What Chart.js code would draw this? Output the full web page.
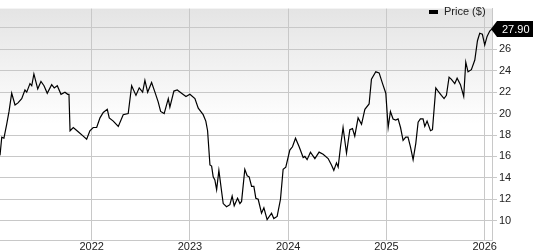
<!DOCTYPE html>
<html>
<head>
<meta charset="utf-8">
<script src="https://cdn.jsdelivr.net/npm/chart.js@4/dist/chart.umd.min.js"></script>
<style>
  html, body { margin: 0; padding: 0; background: #fff; }
  #wrap { width: 533px; height: 250px; position: relative; }
</style>
</head>
<body>
<div id="wrap"><canvas id="grafico"></canvas></div>
<script>
// datas em anos decimais
const datas = [
  2021.067, 2021.085, 2021.107, 2021.135, 2021.159, 2021.186, 2021.220, 2021.250, 2021.288, 2021.321,
  2021.339, 2021.372, 2021.390, 2021.412, 2021.451, 2021.484, 2021.515, 2021.548, 2021.593, 2021.619,
  2021.650, 2021.688, 2021.728, 2021.756, 2021.769, 2021.780, 2021.813, 2021.863, 2021.914, 2021.949,
  2021.982, 2022.016, 2022.051, 2022.085, 2022.118, 2022.159, 2022.179, 2022.220, 2022.271, 2022.321,
  2022.372, 2022.407, 2022.451, 2022.484, 2022.519, 2022.542, 2022.570, 2022.610, 2022.644, 2022.677,
  2022.702, 2022.738, 2022.780, 2022.796, 2022.837, 2022.871, 2022.915, 2022.960, 2023.000, 2023.051,
  2023.085, 2023.135, 2023.162, 2023.180, 2023.204, 2023.221, 2023.237, 2023.254, 2023.272, 2023.295,
  2023.323, 2023.339, 2023.373, 2023.407, 2023.430, 2023.451, 2023.485, 2023.509, 2023.526, 2023.559,
  2023.583, 2023.603, 2023.628, 2023.651, 2023.671, 2023.695, 2023.729, 2023.753, 2023.786, 2023.831,
  2023.854, 2023.888, 2023.922, 2023.949, 2023.976, 2024.017, 2024.044, 2024.075, 2024.112, 2024.153,
  2024.170, 2024.193, 2024.227, 2024.272, 2024.315, 2024.356, 2024.407, 2024.441, 2024.465, 2024.492,
  2024.509, 2024.533, 2024.559, 2024.594, 2024.628, 2024.655, 2024.678, 2024.712, 2024.747, 2024.781,
  2024.824, 2024.848, 2024.892, 2024.926, 2024.961, 2024.994, 2025.018, 2025.041, 2025.068, 2025.095,
  2025.119, 2025.144, 2025.170, 2025.197, 2025.220, 2025.245, 2025.272, 2025.299, 2025.323, 2025.346,
  2025.373, 2025.391, 2025.414, 2025.449, 2025.469, 2025.503, 2025.526, 2025.560, 2025.587, 2025.611,
  2025.638, 2025.662, 2025.696, 2025.720, 2025.754, 2025.787, 2025.808, 2025.831, 2025.865, 2025.900,
  2025.927, 2025.950, 2025.977, 2026.001, 2026.025, 2026.052, 2026.075
];

const precos = [
  16.1, 17.8, 17.7, 19.0, 20.2, 21.9, 20.8, 21.0, 21.4, 22.2,
  22.0, 22.8, 22.6, 23.7, 22.3, 23.0, 22.6, 21.9, 22.7, 22.4,
  22.6, 21.8, 22.0, 21.8, 21.8, 18.4, 18.7, 18.3, 17.9, 17.6,
  18.4, 18.7, 18.7, 19.6, 20.1, 20.4, 19.6, 19.3, 18.8, 19.9,
  20.0, 22.6, 21.7, 22.4, 22.0, 23.1, 22.0, 22.9, 22.0, 21.1,
  20.2, 20.0, 21.4, 20.6, 22.1, 22.2, 21.9, 21.6, 21.8, 21.4,
  20.5, 19.9, 19.3, 18.4, 15.2, 15.1, 14.1, 13.8, 12.9, 14.7,
  12.7, 11.6, 11.3, 11.5, 12.3, 11.4, 12.1, 11.6, 11.8, 14.8,
  14.2, 14.1, 13.2, 13.2, 12.1, 12.0, 10.7, 11.2, 10.1, 10.7,
  10.2, 10.4, 12.0, 14.8, 15.0, 16.6, 16.9, 17.7, 16.9, 15.9,
  16.0, 15.7, 16.4, 15.8, 16.4, 16.2, 15.8, 15.2, 14.7, 15.4,
  15.0, 16.9, 18.7, 16.3, 18.5, 18.6, 17.9, 19.6, 19.0, 20.4,
  20.9, 23.2, 23.9, 23.8, 22.8, 21.9, 18.7, 20.2, 19.5, 19.4,
  19.5, 18.7, 17.5, 17.8, 17.8, 16.9, 15.7, 17.2, 19.2, 19.5,
  19.5, 18.8, 19.3, 18.4, 18.5, 22.4, 22.1, 21.7, 21.4, 21.7,
  23.4, 23.2, 22.8, 23.3, 22.7, 21.6, 24.8, 23.9, 24.1, 25.0,
  26.8, 27.5, 27.4, 26.4, 27.2, 27.7, 27.9
];

const anosTicks = [2022, 2023, 2024, 2025, 2026];
const valoresTicks = [10, 12, 14, 16, 18, 20, 22, 24, 26, 28];
const ultimoPreco = '27.90';
const legenda = 'Price ($)';

const fonte = '"Liberation Sans", Arial, sans-serif';
const corGrade = '#c8c8c8';

// 🔹 fundo em degradê
const fundo = {
  id: 'fundo',
  beforeDraw(chart) {
    const { ctx, chartArea: a } = chart;
    const g = ctx.createLinearGradient(0, a.top, 0, a.bottom);
    g.addColorStop(0, '#e4e4e4');
    g.addColorStop(0.5, '#ffffff');
    g.addColorStop(1, '#ffffff');
    ctx.save();
    ctx.fillStyle = g;
    ctx.fillRect(a.left, a.top, a.right - a.left, a.bottom - a.top);
    ctx.restore();
  }
};

// 🔹 legenda e etiqueta do último preço
const extras = {
  id: 'extras',
  afterDraw(chart) {
    const { ctx, chartArea: a } = chart;
    const y = chart.scales.y.getPixelForValue(precos[precos.length - 1]);
    ctx.save();
    // legenda
    ctx.fillStyle = '#000';
    ctx.fillRect(429, 10, 9, 4);
    ctx.font = '11px ' + fonte;
    ctx.fillStyle = '#222';
    ctx.textBaseline = 'middle';
    ctx.textAlign = 'left';
    ctx.fillText(legenda, 444, 12);
    // etiqueta
    const x0 = a.right - 1;
    ctx.fillStyle = '#000';
    ctx.beginPath();
    ctx.moveTo(x0, y);
    ctx.lineTo(x0 + 6, y - 8);
    ctx.lineTo(533, y - 8);
    ctx.lineTo(533, y + 8);
    ctx.lineTo(x0 + 6, y + 8);
    ctx.closePath();
    ctx.fill();
    ctx.fillStyle = '#fff';
    ctx.font = '11px ' + fonte;
    ctx.fillText(ultimoPreco, x0 + 11, y + 1);
    ctx.restore();
  }
};

const ctx = document.getElementById('grafico').getContext('2d');

new Chart(ctx, {
  type: 'line',
  data: {
    datasets: [{
      label: legenda,
      data: datas.map((d, i) => ({ x: d, y: precos[i] })),
      borderColor: '#000',
      borderWidth: 1.2,
      pointRadius: 0,
      tension: 0,
      fill: false
    }]
  },
  options: {
    responsive: true,
    maintainAspectRatio: false,
    animation: false,
    layout: { padding: 0 },
    plugins: {
      legend: { display: false },
      tooltip: { enabled: false }
    },
    scales: {
      x: {
        type: 'linear',
        min: 2021.067,
        max: 2026.075,
        afterBuildTicks(s) { s.ticks = anosTicks.map(v => ({ value: v })); },
        afterFit(s) { s.height = 10; },
        grid: { color: corGrade, tickLength: 0 },
        border: { color: corGrade },
        ticks: {
          padding: 0,
          maxRotation: 0,
          autoSkip: false,
          color: '#222',
          font: { family: fonte, size: 11 },
          callback: v => String(v)
        }
      },
      y: {
        position: 'right',
        min: 8.2,
        max: 29.8,
        afterBuildTicks(s) { s.ticks = valoresTicks.map(v => ({ value: v })); },
        afterFit(s) { s.width = 41; },
        grid: { color: corGrade, tickLength: 5 },
        border: { color: corGrade },
        ticks: {
          padding: 2,
          autoSkip: false,
          color: '#222',
          font: { family: fonte, size: 11 },
          callback: v => (v === 28 ? '' : String(v))
        }
      }
    }
  },
  plugins: [fundo, extras]
});
</script>
</body>
</html>
